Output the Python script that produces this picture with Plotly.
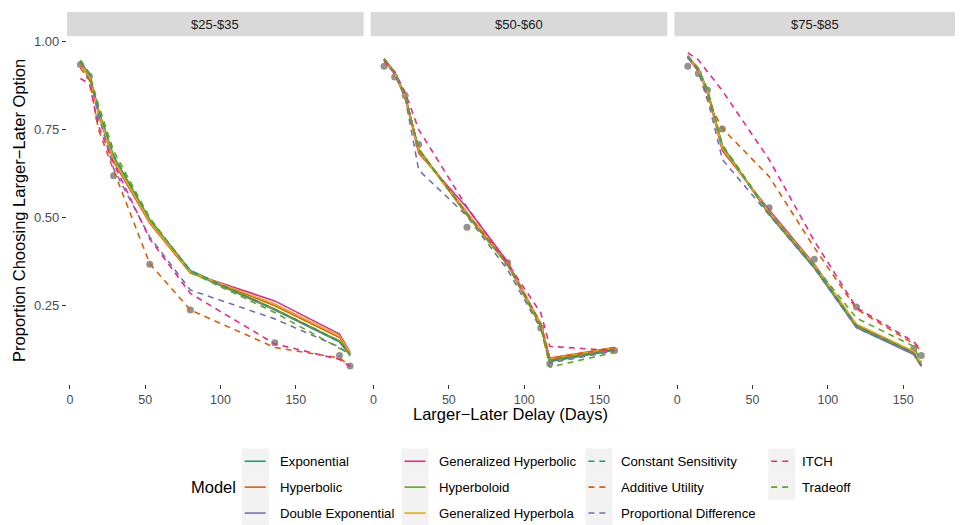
import plotly.graph_objects as go

W, H = 960, 525

# ---- data -------------------------------------------------------------
brackets = ["$25-$35", "$50-$60", "$75-$85"]

delays_25 = [7, 13, 19, 29, 53, 80, 136, 179, 186]
delays_50 = [7, 14, 21, 30, 62, 89, 111, 117, 160]
delays_75 = [7, 14, 20, 30, 61, 91, 119, 157, 162]

observed_25 = [0.935, 0.901, 0.784, 0.619, 0.368, 0.238, 0.145, 0.109, 0.079]
observed_50 = [0.930, 0.899, 0.847, 0.708, 0.473, 0.372, 0.187, 0.086, 0.123]
observed_75 = [0.930, 0.909, 0.862, 0.752, 0.528, 0.382, 0.247, 0.128, 0.109]

# model predictions, $25-$35
exponential_25 = [0.943, 0.905, 0.805, 0.675, 0.495, 0.350, 0.240, 0.150, 0.112]
hyperbolic_25 = [0.940, 0.902, 0.800, 0.668, 0.490, 0.347, 0.250, 0.160, 0.115]
double_exp_25 = [0.942, 0.904, 0.803, 0.672, 0.492, 0.346, 0.238, 0.147, 0.110]
gen_hyperbolic_25 = [0.935, 0.898, 0.795, 0.660, 0.485, 0.343, 0.264, 0.170, 0.118]
hyperboloid_25 = [0.943, 0.905, 0.805, 0.674, 0.494, 0.349, 0.241, 0.150, 0.112]
gen_hyperbola_25 = [0.938, 0.900, 0.798, 0.665, 0.488, 0.345, 0.255, 0.164, 0.116]
const_sens_25 = [0.944, 0.906, 0.808, 0.678, 0.497, 0.350, 0.240, 0.150, 0.112]
additive_25 = [0.925, 0.890, 0.750, 0.635, 0.370, 0.238, 0.132, 0.102, 0.080]
prop_diff_25 = [0.940, 0.910, 0.790, 0.640, 0.445, 0.295, 0.213, 0.133, 0.108]
itch_25 = [0.895, 0.880, 0.760, 0.655, 0.440, 0.285, 0.142, 0.098, 0.078]
tradeoff_25 = [0.947, 0.910, 0.820, 0.690, 0.500, 0.345, 0.231, 0.130, 0.113]

# model predictions, $50-$60
exponential_50 = [0.950, 0.912, 0.845, 0.692, 0.510, 0.368, 0.196, 0.095, 0.127]
hyperbolic_50 = [0.948, 0.910, 0.843, 0.690, 0.512, 0.370, 0.199, 0.102, 0.132]
double_exp_50 = [0.950, 0.912, 0.845, 0.693, 0.514, 0.366, 0.192, 0.092, 0.124]
gen_hyperbolic_50 = [0.945, 0.908, 0.840, 0.683, 0.528, 0.375, 0.197, 0.098, 0.130]
hyperboloid_50 = [0.951, 0.913, 0.846, 0.694, 0.508, 0.367, 0.195, 0.094, 0.126]
gen_hyperbola_50 = [0.947, 0.910, 0.842, 0.688, 0.515, 0.370, 0.198, 0.100, 0.131]
const_sens_50 = [0.950, 0.912, 0.845, 0.692, 0.510, 0.367, 0.195, 0.093, 0.125]
additive_50 = [0.946, 0.910, 0.845, 0.695, 0.512, 0.371, 0.200, 0.100, 0.132]
prop_diff_50 = [0.950, 0.912, 0.840, 0.635, 0.505, 0.352, 0.185, 0.088, 0.122]
itch_50 = [0.945, 0.915, 0.855, 0.750, 0.530, 0.370, 0.230, 0.135, 0.123]
tradeoff_50 = [0.952, 0.913, 0.846, 0.695, 0.508, 0.366, 0.192, 0.076, 0.118]

# model predictions, $75-$85
exponential_75 = [0.958, 0.922, 0.862, 0.703, 0.512, 0.362, 0.192, 0.116, 0.080]
hyperbolic_75 = [0.955, 0.920, 0.860, 0.699, 0.515, 0.365, 0.196, 0.119, 0.083]
double_exp_75 = [0.957, 0.921, 0.861, 0.701, 0.509, 0.357, 0.188, 0.112, 0.078]
gen_hyperbolic_75 = [0.953, 0.918, 0.857, 0.690, 0.522, 0.368, 0.195, 0.117, 0.082]
hyperboloid_75 = [0.958, 0.922, 0.862, 0.703, 0.512, 0.361, 0.192, 0.116, 0.080]
gen_hyperbola_75 = [0.955, 0.920, 0.860, 0.697, 0.516, 0.366, 0.198, 0.121, 0.085]
const_sens_75 = [0.958, 0.922, 0.862, 0.703, 0.513, 0.362, 0.193, 0.116, 0.080]
additive_75 = [0.956, 0.915, 0.834, 0.753, 0.617, 0.415, 0.241, 0.142, 0.123]
prop_diff_75 = [0.955, 0.920, 0.840, 0.665, 0.508, 0.357, 0.188, 0.114, 0.079]
itch_75 = [0.968, 0.948, 0.915, 0.860, 0.665, 0.434, 0.245, 0.148, 0.125]
tradeoff_75 = [0.960, 0.925, 0.865, 0.707, 0.515, 0.365, 0.215, 0.135, 0.090]

models = ["Exponential", "Hyperbolic", "Double Exponential",
          "Generalized Hyperbolic", "Hyperboloid", "Generalized Hyperbola",
          "Constant Sensitivity", "Additive Utility", "Proportional Difference",
          "ITCH", "Tradeoff"]
model_colors = ["#1B9E77", "#D95F02", "#7570B3", "#E7298A", "#66A61E", "#E6AB02",
                "#1B9E77", "#D95F02", "#7570B3", "#E7298A", "#66A61E"]
model_dashed = [False] * 6 + [True] * 5

y_ticks = [0.25, 0.50, 0.75, 1.00]
x_ticks = [0, 50, 100, 150]

panel_delays = [delays_25, delays_50, delays_75]
panel_observed = [observed_25, observed_50, observed_75]
panel_fits = [
    [exponential_25, hyperbolic_25, double_exp_25, gen_hyperbolic_25, hyperboloid_25,
     gen_hyperbola_25, const_sens_25, additive_25, prop_diff_25, itch_25, tradeoff_25],
    [exponential_50, hyperbolic_50, double_exp_50, gen_hyperbolic_50, hyperboloid_50,
     gen_hyperbola_50, const_sens_50, additive_50, prop_diff_50, itch_50, tradeoff_50],
    [exponential_75, hyperbolic_75, double_exp_75, gen_hyperbolic_75, hyperboloid_75,
     gen_hyperbola_75, const_sens_75, additive_75, prop_diff_75, itch_75, tradeoff_75],
]

# ---- layout geometry (pixels) -----------------------------------------
FONT = "Liberation Sans, Arial, Helvetica, sans-serif"
PX_PER_DAY = 1.508
X_MIN = -1.95
panels_px = [(66, 363), (370, 667), (674, 955)]
PANEL_TOP, PANEL_BOTTOM = 34.5, 383.0
STRIP_TOP = 10.0
Y_RANGE = [0.0295, 1.0145]
DASH = "6px,5px"
LINE_W = 1.6


def px_x(p):
    return p / W


def px_y(p):
    return 1 - p / H


fig = go.Figure()

# observed proportions under the model curves
for i, (dl, obs) in enumerate(zip(panel_delays, panel_observed)):
    ax = "" if i == 0 else str(i + 1)
    fig.add_trace(go.Scatter(
        x=dl, y=obs, xaxis="x" + ax, yaxis="y" + ax, mode="markers",
        marker=dict(color="rgba(110,110,110,0.75)", size=7, line=dict(width=0)),
        showlegend=False, hoverinfo="skip"))

for i, (dl, fits) in enumerate(zip(panel_delays, panel_fits)):
    ax = "" if i == 0 else str(i + 1)
    for name, col, dashed, vals in zip(models, model_colors, model_dashed, fits):
        fig.add_trace(go.Scatter(
            x=dl, y=vals, xaxis="x" + ax, yaxis="y" + ax, mode="lines",
            name=name, showlegend=False,
            line=dict(color=col, width=LINE_W, dash=DASH if dashed else "solid")))

layout = dict(
    width=W, height=H, margin=dict(l=0, r=0, t=0, b=0),
    paper_bgcolor="white", plot_bgcolor="white",
    font=dict(family=FONT, size=13, color="#4D4D4D"),
    showlegend=False,
)

shapes = []
annotations = []
for i, (x0, x1) in enumerate(panels_px):
    ax = "" if i == 0 else str(i + 1)
    span = (x1 - x0) / PX_PER_DAY
    layout["xaxis" + ax] = dict(
        domain=[px_x(x0), px_x(x1)], range=[X_MIN, X_MIN + span],
        anchor="y" + ax, tickvals=x_ticks, ticks="outside", ticklen=4,
        tickwidth=1, tickcolor="#333333", showgrid=False, zeroline=False,
        showline=False, tickfont=dict(size=12.5, color="#4D4D4D", family=FONT))
    layout["yaxis" + ax] = dict(
        domain=[px_y(PANEL_BOTTOM), px_y(PANEL_TOP)], range=Y_RANGE,
        anchor="x" + ax, tickvals=y_ticks,
        ticktext=[f"{v:.2f}" for v in y_ticks],
        ticks="outside" if i == 0 else "", ticklen=4, tickwidth=1,
        tickcolor="#333333", showticklabels=(i == 0), showgrid=False,
        zeroline=False, showline=False,
        tickfont=dict(size=13, color="#4D4D4D", family=FONT))
    # facet strip
    shapes.append(dict(type="rect", xref="paper", yref="paper",
                       x0=px_x(x0), x1=px_x(x1), y0=px_y(PANEL_TOP), y1=px_y(STRIP_TOP),
                       fillcolor="#D9D9D9", line=dict(width=0), layer="below"))
    annotations.append(dict(xref="paper", yref="paper", x=px_x((x0 + x1) / 2),
                            y=px_y((STRIP_TOP + PANEL_TOP) / 2), text=brackets[i],
                            showarrow=False, xanchor="center", yanchor="middle",
                            font=dict(size=13, color="#1A1A1A", family=FONT)))

# axis titles
annotations.append(dict(xref="paper", yref="paper",
                        x=px_x((panels_px[0][0] + panels_px[-1][1]) / 2), y=px_y(414),
                        text="Larger\u2212Later Delay (Days)", showarrow=False,
                        xanchor="center", yanchor="middle",
                        font=dict(size=16.5, color="black", family=FONT)))
annotations.append(dict(xref="paper", yref="paper", x=px_x(18),
                        y=px_y((PANEL_TOP + PANEL_BOTTOM) / 2),
                        text="Proportion Choosing Larger\u2212Later Option", textangle=-90,
                        showarrow=False, xanchor="center", yanchor="middle",
                        font=dict(size=16.5, color="black", family=FONT)))

# legend: title on the left, four columns of three keys each
annotations.append(dict(xref="paper", yref="paper", x=px_x(188), y=px_y(487),
                        text="Model", showarrow=False, xanchor="left", yanchor="middle",
                        font=dict(size=16.5, color="black", family=FONT)))
key_x = [241, 401, 585, 768]
text_x = [277, 436, 619, 800]
KEY_W, KEY_H, KEY_TOP = 27, 26, 448
for k, (name, col, dashed) in enumerate(zip(models, model_colors, model_dashed)):
    c, r = divmod(k, 3)
    bx0 = key_x[c]
    by0 = KEY_TOP + r * KEY_H
    cy = by0 + KEY_H / 2
    shapes.append(dict(type="rect", xref="paper", yref="paper",
                       x0=px_x(bx0), x1=px_x(bx0 + KEY_W), y0=px_y(by0 + KEY_H), y1=px_y(by0),
                       fillcolor="#F2F2F2", line=dict(width=0), layer="below"))
    shapes.append(dict(type="line", xref="paper", yref="paper",
                       x0=px_x(bx0 + 3), x1=px_x(bx0 + KEY_W - 3), y0=px_y(cy), y1=px_y(cy),
                       line=dict(color=col, width=LINE_W, dash=DASH if dashed else "solid")))
    annotations.append(dict(xref="paper", yref="paper", x=px_x(text_x[c]), y=px_y(cy),
                            text=name, showarrow=False, xanchor="left", yanchor="middle",
                            font=dict(size=13.2, color="black", family=FONT)))

layout["shapes"] = shapes
layout["annotations"] = annotations
fig.update_layout(**layout)

fig.write_html("out.html")
